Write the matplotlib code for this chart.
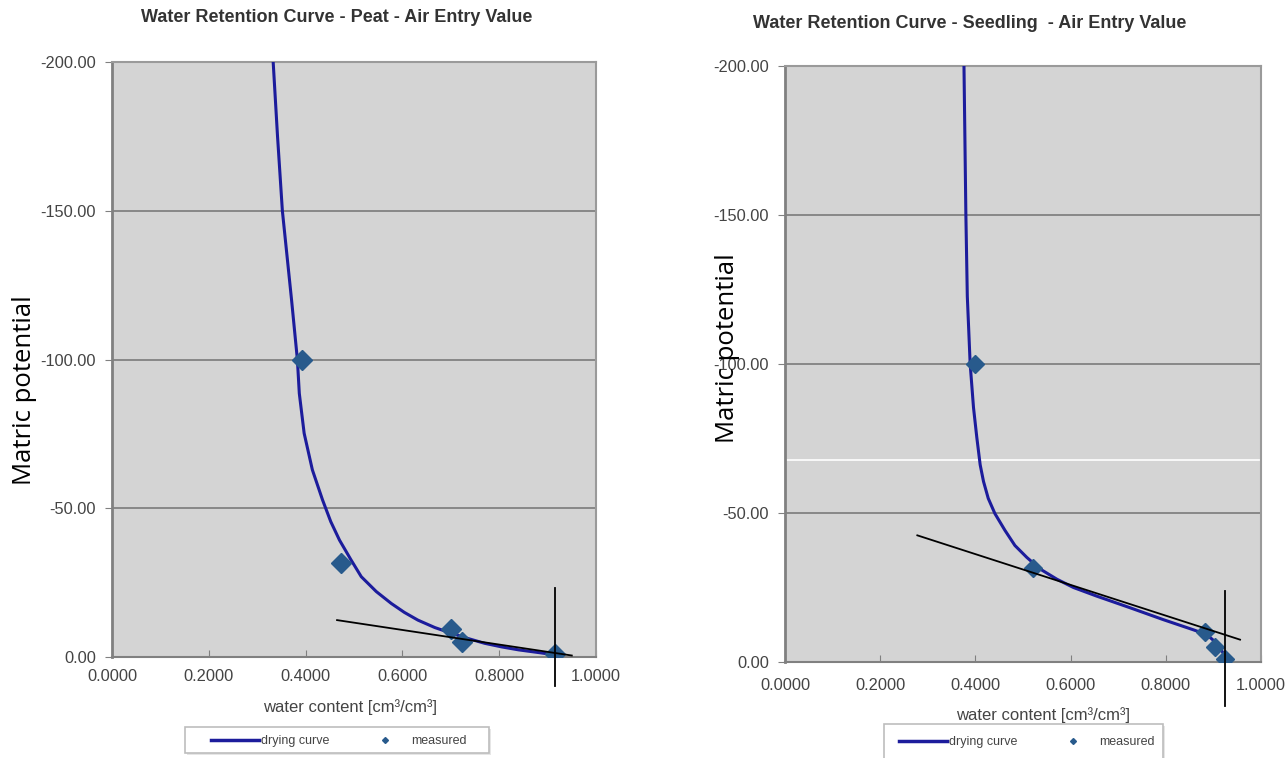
import numpy as np
import matplotlib
matplotlib.use("Agg")
import matplotlib.pyplot as plt
from matplotlib.lines import Line2D
from matplotlib.patches import Rectangle

plt.rcParams['font.family'] = ['Liberation Sans', 'DejaVu Sans']

W, H = 1288, 758

# ---- Peat (left) ----
peat_curve_theta = [0.333, 0.342, 0.352, 0.371, 0.383, 0.387, 0.397, 0.414, 0.435,
                    0.452, 0.470, 0.494, 0.515, 0.546, 0.577, 0.604, 0.632, 0.667,
                    0.701, 0.736, 0.770, 0.805, 0.840, 0.881, 0.916, 0.925]
peat_curve_psi = [-200, -175, -150, -120, -100, -88.6, -75.2, -62.9, -52.8,
                  -45.5, -39.3, -32.6, -27.0, -22.0, -18.0, -15.0, -12.4, -9.9,
                  -8.0, -6.2, -4.6, -3.4, -2.4, -1.5, -0.7, 0]
peat_meas_theta = [0.392, 0.473, 0.701, 0.724, 0.915]
peat_meas_psi = [-100, -31.6, -9.4, -5, -1]
peat_tangent_theta = [0.465, 0.950]
peat_tangent_psi = [-12.4, -0.5]
peat_aev_theta = 0.915
peat_aev_psi = [-23.2, 9.7]

# ---- Seedling (right) ----
seed_curve_theta = [0.376, 0.380, 0.383, 0.389, 0.396, 0.403, 0.410, 0.417, 0.427,
                    0.441, 0.462, 0.483, 0.508, 0.536, 0.571, 0.606, 0.655, 0.725,
                    0.795, 0.858, 0.886, 0.907, 0.921, 0.924]
seed_curve_psi = [-200, -150, -122.7, -100, -85.4, -75.3, -66.2, -60.6, -54.9,
                  -49.8, -44.2, -39.1, -35.1, -31.2, -27.8, -25.0, -22.1, -18.2,
                  -14.2, -10.8, -9.2, -6.3, -2.9, 0]
seed_meas_theta = [0.399, 0.521, 0.882, 0.903, 0.924]
seed_meas_psi = [-100, -31.6, -10, -5, -1]
seed_tangent_theta = [0.278, 0.956]
seed_tangent_psi = [-42.5, -7.5]
seed_aev_theta = 0.924
seed_aev_psi = [-23.7, 14.6]

yticks = [-200, -150, -100, -50, 0]
xticks = [0.0, 0.2, 0.4, 0.6, 0.8, 1.0]

curve_col = "#1c1c9c"
meas_col = "#285a8c"
tick_col = "#444444"

fig = plt.figure(figsize=(W / 100, H / 100), dpi=100)


def px(x, y):
    return x / W, 1 - y / H


def panel(left, top, right, bottom, ctheta, cpsi, mtheta, mpsi, ttheta, tpsi,
          atheta, apsi, msize, xpad, white_line=None):
    ax = fig.add_axes([left / W, 1 - bottom / H, (right - left) / W, (bottom - top) / H])
    ax.set_facecolor("#d4d4d4")
    ax.plot(ctheta, cpsi, color=curve_col, lw=2.2, zorder=3,
            solid_joinstyle="round")
    ax.plot(mtheta, mpsi, ls="none", marker="D", ms=msize, color=meas_col,
            zorder=4)
    ax.plot(ttheta, tpsi, color="black", lw=1.3, zorder=5)
    ax.plot([atheta, atheta], apsi, color="black", lw=1.3, zorder=5,
            clip_on=False)
    ax.set_xlim(0, 1.0)
    ax.set_ylim(0, -200)
    ax.set_yticks(yticks)
    ax.set_yticklabels(["%.2f" % v for v in yticks])
    ax.set_xticks(xticks)
    ax.set_xticklabels(["%.4f" % v for v in xticks])
    ax.tick_params(axis="y", direction="out", length=5, color="#808080",
                   labelsize=11.8, labelcolor=tick_col, pad=6.5)
    ax.tick_params(axis="x", direction="in", length=5, color="#808080",
                   labelsize=11.8, labelcolor=tick_col, pad=xpad)
    ax.grid(axis="y", color="#7a7a7a", lw=1.2)
    if white_line is not None:
        ax.axhline(white_line, color="white", lw=1.2, zorder=2)
    ax.set_axisbelow(True)
    for s in ["top", "right"]:
        ax.spines[s].set_color("#9a9a9a")
        ax.spines[s].set_linewidth(1.5)
    ax.spines["left"].set_color("#808080")
    ax.spines["left"].set_linewidth(2)
    ax.spines["bottom"].set_color("#808080")
    ax.spines["bottom"].set_linewidth(1.5)
    return ax


def legend_box(x0, y0, x1, y1, cx, cy):
    fig.patches.append(Rectangle(px(x0 + 2, y1 + 2), (x1 - x0) / W, (y1 - y0) / H,
                                 transform=fig.transFigure, facecolor="#e6e6e6",
                                 edgecolor="none", zorder=1))
    fig.patches.append(Rectangle(px(x0, y1), (x1 - x0) / W, (y1 - y0) / H,
                                 transform=fig.transFigure, facecolor="white",
                                 edgecolor="#bdbdbd", lw=1.2, zorder=2))
    handles = [Line2D([], [], color=curve_col, lw=2.5),
               Line2D([], [], ls="none", marker="D", ms=3, color=meas_col)]
    leg = fig.legend(handles, ["drying curve", "measured"], ncol=2,
                     loc="center", bbox_to_anchor=px(cx, cy),
                     fontsize=9, frameon=False, handlelength=3.8,
                     columnspacing=2.6, handletextpad=0.15, borderpad=0)
    leg.set_zorder(3)
    for t in leg.get_texts():
        t.set_color(tick_col)


panel(112, 62, 596, 657,
      peat_curve_theta, peat_curve_psi, peat_meas_theta, peat_meas_psi,
      peat_tangent_theta, peat_tangent_psi, peat_aev_theta, peat_aev_psi,
      10, 8.5)
panel(785, 66, 1261, 662,
      seed_curve_theta, seed_curve_psi, seed_meas_theta, seed_meas_psi,
      seed_tangent_theta, seed_tangent_psi, seed_aev_theta, seed_aev_psi,
      9, 11.5, white_line=-67.8)

# titles
fig.text(*px(337, 18), "Water Retention Curve - Peat - Air Entry Value",
         ha="center", va="center", fontsize=13, fontweight="bold", color="#333333")
fig.text(*px(970, 24), "Water Retention Curve - Seedling  - Air Entry Value",
         ha="center", va="center", fontsize=13, fontweight="bold", color="#333333")

# x labels
fig.text(*px(350, 707), "water content [cm³/cm³]", ha="center", va="center",
         fontsize=12, color=tick_col)
fig.text(*px(1043, 715), "water content [cm³/cm³]", ha="center", va="center",
         fontsize=12, color=tick_col)

# legends
legend_box(185, 727, 489, 753, 339, 741)
legend_box(884, 724, 1163, 770, 1027, 742)

# overlaid y labels
fig.text(*px(25, 390), "Matric potential", rotation=90, ha="center", va="center",
         fontsize=18.5, family=["Open Sans", "DejaVu Sans"])
fig.text(*px(727, 348), "Matric potential", rotation=90, ha="center", va="center",
         fontsize=18.5, family=["Open Sans", "DejaVu Sans"])

fig.savefig("out.png", dpi=100, facecolor="white")
